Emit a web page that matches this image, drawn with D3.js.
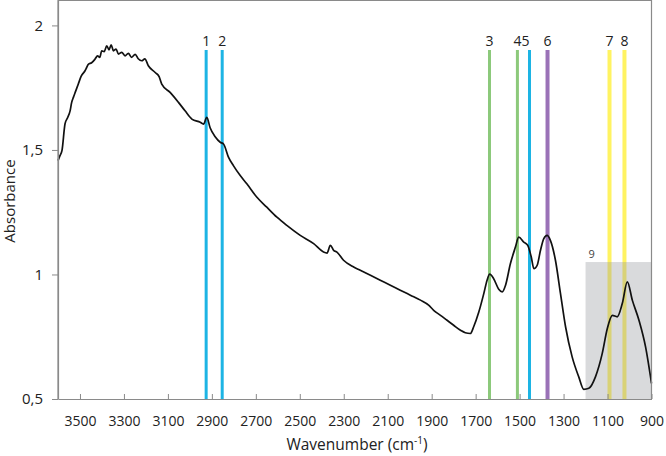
<!DOCTYPE html>
<html>
<head>
<meta charset="utf-8">
<script src="https://cdn.jsdelivr.net/npm/d3@7"></script>
<style>
  body { margin: 0; background: #fff; }
  text { font-family: "Open Sans", sans-serif; fill: #222; }
</style>
</head>
<body>
<div id="hook"></div>
<script>
// spectrum: wavenumber (cm-1) and absorbance
var wavenumbers = [3600, 3591, 3582, 3568, 3556, 3545, 3538, 3530, 3520, 3508, 3495, 3477, 3470, 3462, 3447, 3432, 3420, 3410, 3401, 3390, 3378, 3368, 3358, 3348, 3336, 3325, 3310, 3295, 3280, 3265, 3249, 3235, 3219, 3205, 3189, 3158, 3140, 3128, 3090, 3052, 3022, 2991, 2953, 2938, 2923, 2908, 2885, 2862, 2847, 2824, 2802, 2771, 2741, 2695, 2650, 2604, 2559, 2498, 2437, 2392, 2376, 2361, 2346, 2331, 2301, 2255, 2225, 2134, 2088, 2043, 1997, 1951, 1914, 1891, 1860, 1830, 1800, 1769, 1747, 1724, 1709, 1686, 1663, 1648, 1636, 1618, 1595, 1579, 1564, 1542, 1519, 1504, 1481, 1463, 1447, 1435, 1420, 1405, 1390, 1375, 1360, 1337, 1314, 1291, 1261, 1231, 1208, 1185, 1155, 1124, 1101, 1078, 1056, 1033, 1010, 987, 957, 927, 900];
var absorbance = [1.457, 1.477, 1.497, 1.605, 1.630, 1.657, 1.690, 1.711, 1.735, 1.764, 1.795, 1.818, 1.830, 1.844, 1.850, 1.864, 1.878, 1.872, 1.898, 1.895, 1.918, 1.902, 1.922, 1.898, 1.905, 1.885, 1.892, 1.878, 1.888, 1.872, 1.884, 1.866, 1.858, 1.866, 1.838, 1.811, 1.794, 1.764, 1.731, 1.691, 1.657, 1.624, 1.611, 1.604, 1.631, 1.589, 1.553, 1.531, 1.524, 1.470, 1.437, 1.397, 1.364, 1.310, 1.270, 1.230, 1.197, 1.157, 1.124, 1.090, 1.086, 1.117, 1.097, 1.090, 1.057, 1.030, 1.017, 0.977, 0.957, 0.937, 0.917, 0.897, 0.877, 0.856, 0.836, 0.816, 0.796, 0.776, 0.766, 0.763, 0.790, 0.848, 0.923, 0.977, 1.001, 0.983, 0.941, 0.930, 0.957, 1.043, 1.110, 1.150, 1.130, 1.117, 1.070, 1.023, 1.037, 1.097, 1.144, 1.157, 1.137, 1.057, 0.923, 0.790, 0.669, 0.589, 0.539, 0.543, 0.589, 0.683, 0.783, 0.836, 0.830, 0.883, 0.970, 0.896, 0.816, 0.709, 0.563];

// marked bands
var bandLabels = ["1", "2", "3", "4", "5", "6", "7", "8"];
var bandPositions = [2926, 2853, 1637, 1510, 1455, 1373, 1091, 1023];
var bandGroups = ["cyan", "cyan", "green", "green", "cyan", "purple", "yellow", "yellow"];

// shaded region 9
var regionLabel = "9";
var regionRange = [1200, 900];
var regionTop = 1.05;

var xTicks = [3500, 3300, 3100, 2900, 2700, 2500, 2300, 2100, 1900, 1700, 1500, 1300, 1100, 900];
var yTicks = [0.5, 1, 1.5, 2];

var W = 666, H = 456;
var plotLeft = 58, plotRight = 651.5, plotTop = 0.5, plotBottom = 399;
var groupColor = { cyan: "#1db4e4", green: "#8cc97b", purple: "#9a72b7", yellow: "#fff361" };
var groupWidth = { cyan: 3, green: 3, purple: 4, yellow: 4 };
var labelShift = { "5": -4 };

var svg = d3.select("#hook").append("svg")
    .attr("width", W)
    .attr("height", H);

var x = d3.scaleLinear().domain([3600, 900]).range([plotLeft, plotRight]);
var y = d3.scaleLinear().domain([0.5, 2.1]).range([plotBottom, plotTop]);

// band lines
svg.selectAll("line.band")
    .data(bandPositions)
    .enter()
    .append("line")
    .attr("class", "band")
    .attr("x1", function (d) { return x(d); })
    .attr("x2", function (d) { return x(d); })
    .attr("y1", 50)
    .attr("y2", plotBottom)
    .attr("stroke", function (d, i) { return groupColor[bandGroups[i]]; })
    .attr("stroke-width", function (d, i) { return groupWidth[bandGroups[i]]; });

svg.selectAll("text.band")
    .data(bandPositions)
    .enter()
    .append("text")
    .attr("class", "band")
    .attr("x", function (d, i) { return x(d) + (labelShift[bandLabels[i]] || 0); })
    .attr("y", 46)
    .attr("text-anchor", "middle")
    .style("font-size", "14px")
    .text(function (d, i) { return bandLabels[i]; });

// shaded box, drawn over the yellow bands
svg.append("rect")
    .attr("x", x(regionRange[0]))
    .attr("y", y(regionTop))
    .attr("width", x(regionRange[1]) - x(regionRange[0]))
    .attr("height", plotBottom - y(regionTop))
    .attr("fill", "rgb(150,152,158)")
    .attr("fill-opacity", 0.36);

svg.append("text")
    .attr("x", x(regionRange[0]) + 3)
    .attr("y", y(regionTop) - 4)
    .style("font-size", "11px")
    .style("fill", "#444")
    .text(regionLabel);

// spectrum
var points = wavenumbers.map(function (w, i) { return [w, absorbance[i]]; });
var line = d3.line()
    .x(function (d) { return x(d[0]); })
    .y(function (d) { return y(d[1]); })
    .curve(d3.curveMonotoneX);

svg.append("path")
    .datum(points)
    .attr("d", line)
    .attr("fill", "none")
    .attr("stroke", "#111")
    .attr("stroke-width", 1.7)
    .attr("stroke-linejoin", "round");

// frame
svg.append("path")
    .attr("d", "M" + plotLeft + "," + plotBottom + "V" + plotTop + "H" + plotRight + "V" + plotBottom)
    .attr("fill", "none")
    .attr("stroke", "#8a8a8a")
    .attr("stroke-width", 1.2);

// axes
var xAxis = svg.append("g")
    .attr("transform", "translate(0," + plotBottom + ")")
    .call(d3.axisBottom(x).tickValues(xTicks).tickSizeInner(-5).tickSizeOuter(0).tickPadding(17)
        .tickFormat(d3.format("d")));
xAxis.select(".domain").attr("stroke", "#8a8a8a").attr("stroke-width", 1.2);
xAxis.selectAll(".tick line").attr("stroke", "#8a8a8a");
xAxis.selectAll(".tick text")
    .style("font-family", "Open Sans, sans-serif")
    .style("font-size", "14px")
    .style("fill", "#222");

var yAxis = svg.append("g")
    .attr("transform", "translate(" + plotLeft + ",0)")
    .call(d3.axisLeft(y).tickValues(yTicks).tickSizeInner(6).tickSizeOuter(0).tickPadding(9)
        .tickFormat(function (d) { return String(d).replace(".", ","); }));
yAxis.select(".domain").attr("stroke", "#8a8a8a").attr("stroke-width", 1.2);
yAxis.selectAll(".tick line").attr("stroke", "#8a8a8a");
yAxis.selectAll(".tick text")
    .style("font-family", "Open Sans, sans-serif")
    .style("font-size", "15px")
    .style("fill", "#222");

// titles
var xt = svg.append("text")
    .attr("x", 357)
    .attr("y", 450)
    .attr("text-anchor", "middle")
    .style("font-size", "15.5px");
xt.append("tspan").text("Wavenumber (cm");
xt.append("tspan").attr("dy", -6).style("font-size", "10px").text("-1");
xt.append("tspan").attr("dy", 6).text(")");

svg.append("text")
    .attr("transform", "translate(15,201) rotate(-90)")
    .attr("text-anchor", "middle")
    .style("font-size", "15px")
    .text("Absorbance");
</script>
</body>
</html>
